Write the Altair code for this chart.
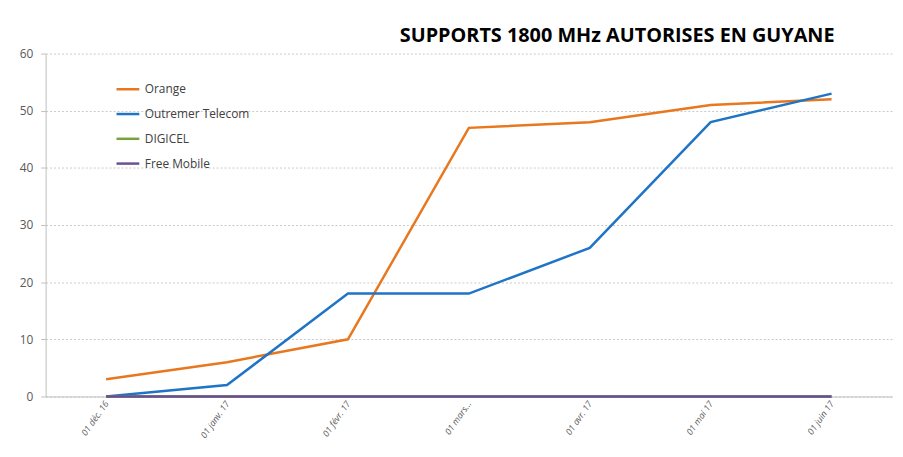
import altair as alt
import pandas as pd

dates = ["01 déc. 16", "01 janv. 17", "01 févr. 17", "01 mars...", "01 avr. 17", "01 mai 17", "01 juin 17"]
series_names = ["Orange", "Outremer Telecom", "DIGICEL", "Free Mobile"]
orange = [3, 6, 10, 47, 48, 51, 52]
outremer = [0, 2, 18, 18, 26, 48, 53]
digicel = [0, 0, 0, 0, 0, 0, 0]
free_mobile = [0, 0, 0, 0, 0, 0, 0]
colors = ["#E8771E", "#1F74C6", "#77A23A", "#6B4E96"]

rows = []
for name, vals in zip(series_names, [orange, outremer, digicel, free_mobile]):
    for i, (d, v) in enumerate(zip(dates, vals)):
        rows.append({"date": d, "value": v, "series": name, "order": series_names.index(name)})
df = pd.DataFrame(rows)

lines = alt.Chart(df).mark_line(strokeWidth=2.5).encode(
    x=alt.X("date:N", sort=dates, scale=alt.Scale(type="point", padding=0.5),
            axis=alt.Axis(title=None, labelAngle=-55, labelFontStyle="italic", labelFontSize=9,
                          labelColor="#595959", labelFont="Open Sans", ticks=False,
                          domainColor="#BFBFBF", labelPadding=5)),
    y=alt.Y("value:Q", scale=alt.Scale(domain=[0, 60]),
            axis=alt.Axis(title=None, values=[0, 10, 20, 30, 40, 50, 60], labelFontSize=12,
                          labelColor="#595959", labelFont="Open Sans", gridDash=[2, 2],
                          gridColor="#C8C8C8", domainColor="#BFBFBF", tickColor="#BFBFBF",
                          tickSize=5, labelPadding=8)),
    color=alt.Color("series:N", sort=series_names,
                    scale=alt.Scale(domain=series_names, range=colors),
                    legend=alt.Legend(title=None, orient="none", legendX=70, legendY=23,
                                      symbolType="stroke", symbolStrokeWidth=2.5, symbolSize=529,
                                      labelFontSize=12, labelFont="Open Sans", labelColor="#404040",
                                      rowPadding=6, symbolOffset=0)),
    order="order:Q",
    detail="series:N",
)

chart = lines.properties(
    width=854, height=346,
    autosize=alt.AutoSizeParams(type="none"),
    padding={"left": 38, "top": 44, "right": 3, "bottom": 51},
    title=alt.Title("SUPPORTS 1800 MHz AUTORISES EN GUYANE", anchor="end", fontSize=20,
                    font="Open Sans", fontWeight="bold", color="#000000", offset=2, dx=-58),
).configure_view(stroke=None)

chart.save("out.html", embed_options={"renderer": "svg", "actions": False})
